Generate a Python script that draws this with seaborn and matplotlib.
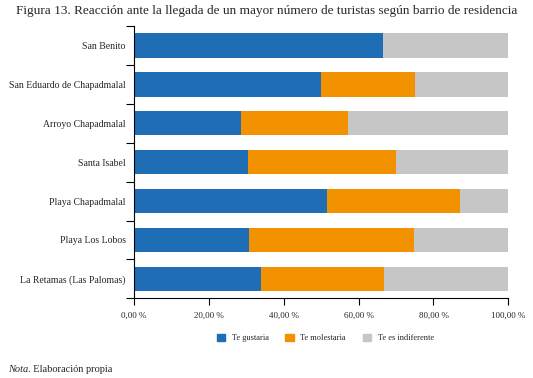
import matplotlib
matplotlib.use("Agg")
import matplotlib.pyplot as plt
import matplotlib.patches as mpatches
import pandas as pd
import seaborn as sns

# Data (percent of respondents per neighbourhood)
barrios = ["San Benito", "San Eduardo de Chapadmalal", "Arroyo Chapadmalal",
           "Santa Isabel", "Playa Chapadmalal", "Playa Los Lobos",
           "La Retamas (Las Palomas)"]
gustaria = [66.5, 50.0, 28.6, 30.4, 51.5, 30.8, 33.8]
molestaria = [0.0, 25.0, 28.6, 39.6, 35.6, 44.0, 33.0]
indiferente = [33.5, 25.0, 42.8, 30.0, 12.9, 25.2, 33.2]
series = ["Te gustaria", "Te molestaria", "Te es indiferente"]
colors = ["#1f6eb5", "#f29200", "#c6c6c6"]
xticks = [0, 20, 40, 60, 80, 100]
xlabels = ["0,00 %", "20,00 %", "40,00 %", "60,00 %", "80,00 %", "100,00 %"]

df = pd.DataFrame({"barrio": barrios, "g": gustaria, "m": molestaria, "i": indiferente})
df["c1"] = df["g"]
df["c2"] = df["g"] + df["m"]
df["c3"] = df["g"] + df["m"] + df["i"]

sns.set_style("white")
plt.rcParams["font.family"] = ["Liberation Serif", "DejaVu Serif"]

fig = plt.figure(figsize=(5.33, 3.78), dpi=100)
ax = fig.add_axes([0.2514, 0.2108, 0.7023, 0.7202])

# stacked bars: draw cumulative totals back to front
for col, c in zip(["c3", "c2", "c1"], colors[::-1]):
    sns.barplot(data=df, y="barrio", x=col, orient="h", color=c,
                width=0.625, saturation=1, ax=ax, linewidth=0)

ax.set_xlim(0, 100)
ax.set_ylim(6.5, -0.5)
ax.set_xlabel("")
ax.set_ylabel("")
ax.set_xticks(xticks)
ax.set_xticklabels(xlabels, fontsize=6.5)
ax.set_yticks(range(len(barrios)))
ax.set_yticklabels(barrios, fontsize=7.0)
ax.set_yticks([i - 0.5 for i in range(len(barrios) + 1)], minor=True)
ax.tick_params(axis="y", which="major", length=0, pad=6)
ax.tick_params(axis="y", which="minor", length=6, width=0.8, color="black", left=True)
ax.tick_params(axis="x", which="major", length=5, width=0.8, color="black",
               bottom=True, pad=5)
for s in ["top", "right"]:
    ax.spines[s].set_visible(False)
for s in ["left", "bottom"]:
    ax.spines[s].set_color("black")
    ax.spines[s].set_linewidth(0.8)

handles = [mpatches.Patch(color=c, label=l) for c, l in zip(colors, series)]
fig.legend(handles=handles, loc="center", bbox_to_anchor=(0.61, 0.106), ncol=3,
           frameon=False, fontsize=6, handlelength=1.0, handleheight=1.0,
           columnspacing=2.0, handletextpad=0.8)

fig.text(0.5, 0.972, "Figura 13. Reacción ante la llegada de un mayor número de turistas "
         "según barrio de residencia", ha="center", va="center", fontsize=9.5)
fig.text(8 / 533, 1 - 370 / 378, "Nota", style="italic", fontsize=7.5, va="center")
fig.text(28 / 533, 1 - 370 / 378, ". Elaboración propia", fontsize=7.5, va="center")

fig.savefig("out.png", dpi=100)
